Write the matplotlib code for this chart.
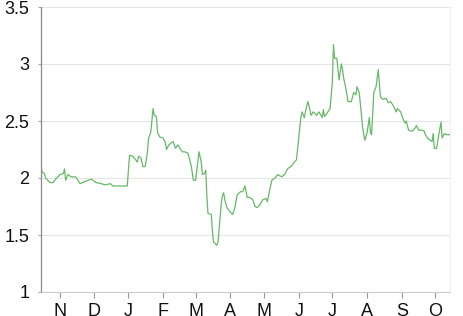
import matplotlib
matplotlib.use("Agg")
import matplotlib.pyplot as plt
import matplotlib.dates as mdates
import pandas as pd

dates = [
    "2019-10-15", "2019-10-16", "2019-10-18", "2019-10-19", "2019-10-23", "2019-10-26", "2019-10-28",
    "2019-11-01", "2019-11-04", "2019-11-05", "2019-11-06", "2019-11-08", "2019-11-11", "2019-11-15",
    "2019-11-19", "2019-11-21", "2019-11-26", "2019-11-29",
    "2019-12-03", "2019-12-08", "2019-12-11", "2019-12-16", "2019-12-18", "2019-12-31",
    "2020-01-02", "2020-01-05", "2020-01-09", "2020-01-10", "2020-01-12", "2020-01-14", "2020-01-16",
    "2020-01-18", "2020-01-19", "2020-01-21", "2020-01-23", "2020-01-24", "2020-01-26", "2020-01-27",
    "2020-01-29",
    "2020-02-01", "2020-02-03", "2020-02-04", "2020-02-06", "2020-02-10", "2020-02-12", "2020-02-14",
    "2020-02-18", "2020-02-20", "2020-02-23", "2020-02-26", "2020-02-28",
    "2020-03-01", "2020-03-04", "2020-03-06", "2020-03-07", "2020-03-09", "2020-03-10", "2020-03-11",
    "2020-03-12", "2020-03-15", "2020-03-16", "2020-03-17", "2020-03-20", "2020-03-21", "2020-03-24",
    "2020-03-25", "2020-03-26", "2020-03-27", "2020-03-29",
    "2020-04-01", "2020-04-03", "2020-04-05", "2020-04-07", "2020-04-10", "2020-04-12", "2020-04-14",
    "2020-04-16", "2020-04-18", "2020-04-21", "2020-04-23", "2020-04-25", "2020-04-27", "2020-04-30",
    "2020-05-03", "2020-05-04", "2020-05-06", "2020-05-08", "2020-05-11", "2020-05-13", "2020-05-17",
    "2020-05-20", "2020-05-22", "2020-05-26", "2020-05-28", "2020-05-30",
    "2020-06-01", "2020-06-03", "2020-06-04", "2020-06-06", "2020-06-07", "2020-06-09", "2020-06-10",
    "2020-06-12", "2020-06-14", "2020-06-15", "2020-06-17", "2020-06-19", "2020-06-22", "2020-06-23",
    "2020-06-24", "2020-06-25", "2020-06-27", "2020-06-29",
    "2020-07-01", "2020-07-02", "2020-07-03", "2020-07-05", "2020-07-07", "2020-07-09", "2020-07-10",
    "2020-07-11", "2020-07-13", "2020-07-15", "2020-07-18", "2020-07-20", "2020-07-22", "2020-07-23",
    "2020-07-25", "2020-07-27", "2020-07-28", "2020-07-30",
    "2020-08-01", "2020-08-03", "2020-08-04", "2020-08-05", "2020-08-07", "2020-08-09", "2020-08-11",
    "2020-08-12", "2020-08-13", "2020-08-15", "2020-08-18", "2020-08-20", "2020-08-22", "2020-08-24",
    "2020-08-27", "2020-08-28", "2020-08-31",
    "2020-09-02", "2020-09-04", "2020-09-05", "2020-09-07", "2020-09-10", "2020-09-13", "2020-09-14",
    "2020-09-16", "2020-09-19", "2020-09-21", "2020-09-22", "2020-09-24", "2020-09-28", "2020-09-29",
    "2020-09-30",
    "2020-10-02", "2020-10-04", "2020-10-06", "2020-10-07", "2020-10-09", "2020-10-11", "2020-10-13",
    "2020-10-14",
]

values = [
    2.10, 2.05, 2.04, 2.00, 1.96, 1.96, 1.99,
    2.03, 2.04, 2.08, 1.98, 2.03, 2.01, 2.01,
    1.95, 1.96, 1.98, 1.99,
    1.96, 1.95, 1.94, 1.95, 1.93, 1.93,
    2.20, 2.19, 2.14, 2.19, 2.18, 2.10, 2.10,
    2.23, 2.35, 2.40, 2.61, 2.55, 2.54, 2.40,
    2.36,
    2.35, 2.31, 2.25, 2.29, 2.32, 2.26, 2.29,
    2.23, 2.23, 2.22, 2.11, 1.98,
    1.98, 2.23, 2.14, 2.03, 2.04, 2.07, 1.85,
    1.69, 1.68, 1.53, 1.44, 1.41, 1.44, 1.79,
    1.85, 1.87, 1.81, 1.74,
    1.70, 1.68, 1.74, 1.85, 1.88, 1.88, 1.93,
    1.83, 1.83, 1.81, 1.75, 1.74, 1.76, 1.81,
    1.82, 1.79, 1.89, 1.98, 2.00, 2.03, 2.01,
    2.04, 2.08, 2.11, 2.14, 2.16,
    2.35, 2.54, 2.58, 2.53, 2.58, 2.67, 2.64,
    2.55, 2.58, 2.57, 2.55, 2.58, 2.53, 2.60,
    2.54, 2.55, 2.58, 2.61,
    2.84, 3.17, 3.05, 3.05, 2.86, 3.00, 2.96,
    2.88, 2.79, 2.67, 2.67, 2.75, 2.73, 2.80,
    2.75, 2.55, 2.44, 2.33,
    2.40, 2.53, 2.40, 2.38, 2.75, 2.80, 2.95,
    2.82, 2.71, 2.69, 2.70, 2.66, 2.67, 2.64,
    2.58, 2.61, 2.58,
    2.52, 2.48, 2.50, 2.42, 2.41, 2.44, 2.46,
    2.42, 2.42, 2.41, 2.38, 2.35, 2.32, 2.39,
    2.26,
    2.26, 2.38, 2.49, 2.35, 2.39, 2.38, 2.38,
    2.38,
]

y_ticks = [1, 1.5, 2, 2.5, 3, 3.5]
y_tick_labels = ["1", "1.5", "2", "2.5", "3", "3.5"]
month_labels = ["N", "D", "J", "F", "M", "A", "M", "J", "J", "A", "S", "O"]

plt.rcParams["font.family"] = ["Liberation Sans", "DejaVu Sans"]

x = pd.to_datetime(dates)

fig = plt.figure(figsize=(4.64, 3.16), dpi=100)
ax = fig.add_axes([41 / 464, 1 - 292 / 316, (450 - 41) / 464, (292 - 7) / 316])

ax.plot(x, values, color="#66b966", linewidth=0.9)

ax.set_xlim(pd.Timestamp("2019-10-15"), pd.Timestamp("2020-10-14"))
ax.set_ylim(1, 3.5)

ax.set_yticks(y_ticks)
ax.set_yticklabels(y_tick_labels)
ax.tick_params(axis="y", length=2.5, width=0.8, color="#aaaaaa", pad=6, labelsize=13,
               labelcolor="#111111")

month_ticks = pd.date_range("2019-11-01", periods=12, freq="MS")
ax.set_xticks(month_ticks)
ax.set_xticklabels(month_labels)
ax.tick_params(axis="x", length=4, width=0.8, color="#999999", pad=4, labelsize=13,
               labelcolor="#111111")

ax.grid(axis="y", color="#e6e6e6", linewidth=0.8)
ax.set_axisbelow(True)

ax.spines["left"].set_color("#888888")
ax.spines["left"].set_linewidth(0.9)
ax.spines["bottom"].set_color("#cccccc")
ax.spines["bottom"].set_linewidth(0.8)
ax.spines["right"].set_color("#f0f0f0")
ax.spines["right"].set_linewidth(0.8)
ax.spines["top"].set_visible(False)

fig.savefig("out.png", dpi=100)
